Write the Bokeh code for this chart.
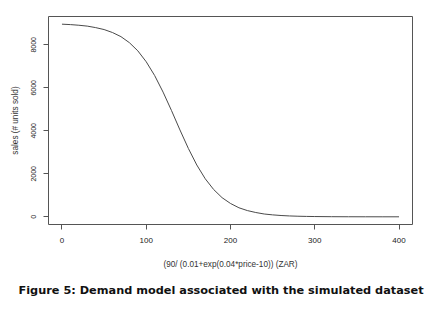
from bokeh.plotting import figure
from bokeh.models import Range1d, FixedTicker, Title
from bokeh.embed import file_html
from bokeh.resources import INLINE

# Values
price = [0, 10, 20, 30, 40, 50, 60, 70, 80, 90, 100, 110, 120, 130, 140, 150,
         160, 170, 180, 190, 200, 210, 220, 230, 240, 250, 260, 270, 280, 290,
         300, 320, 340, 360, 380, 400]
sales = [8960, 8940, 8910, 8870, 8800, 8710, 8570, 8380, 8100, 7720, 7210, 6570,
         5800, 4940, 4040, 3180, 2410, 1770, 1270, 890, 620, 420, 290, 200, 130,
         90, 60, 40, 27, 18, 12, 5, 2, 1, 0, 0]
x_ticks = [0, 100, 200, 300, 400]
y_ticks = [0, 2000, 4000, 6000, 8000]

x_title = "(90/ (0.01+exp(0.04*price-10)) (ZAR)"
y_title = "sales (# units sold)"
caption = "Figure 5: Demand model associated with the simulated dataset"

p = figure(width=444, height=310, output_backend="svg", toolbar_location=None,
           x_range=Range1d(-16, 416), y_range=Range1d(-358, 9317),
           min_border_left=48, min_border_right=32, min_border_top=16,
           min_border_bottom=86)
p.background_fill_color = "white"
p.border_fill_color = "white"
p.grid.visible = False
p.outline_line_color = "#555555"
p.outline_line_width = 1

p.line(price, sales, line_color="#4a4a4a", line_width=1)

for ax in (p.xaxis[0], p.yaxis[0]):
    ax.axis_line_color = None
    ax.major_tick_line_color = "#555555"
    ax.major_tick_out = 5
    ax.major_tick_in = 0
    ax.minor_tick_line_color = None
    ax.major_label_text_font = "Liberation Sans"
    ax.major_label_text_color = "#222222"
    ax.axis_label_text_font = "Liberation Sans"
    ax.axis_label_text_font_size = "8.2px"
    ax.axis_label_text_font_style = "normal"
    ax.axis_label_text_color = "#333333"

p.xaxis.major_label_text_font_size = "8px"
p.yaxis.major_label_text_font_size = "7px"
p.xaxis.ticker = FixedTicker(ticks=x_ticks)
p.yaxis.ticker = FixedTicker(ticks=y_ticks)
p.yaxis.major_label_orientation = "vertical"
p.xaxis.major_label_standoff = 8
p.yaxis.major_label_standoff = 7
p.xaxis.axis_label = x_title
p.yaxis.axis_label = y_title
p.xaxis.axis_label_standoff = 14
p.yaxis.axis_label_standoff = 9

cap = Title(text=caption, text_font="DejaVu Sans", text_font_size="11.3px",
            text_font_style="bold", text_color="#111111", align="left",
            offset=-30, standoff=21)
p.add_layout(cap, "below")

open("out.html", "w").write(file_html(p, INLINE))
